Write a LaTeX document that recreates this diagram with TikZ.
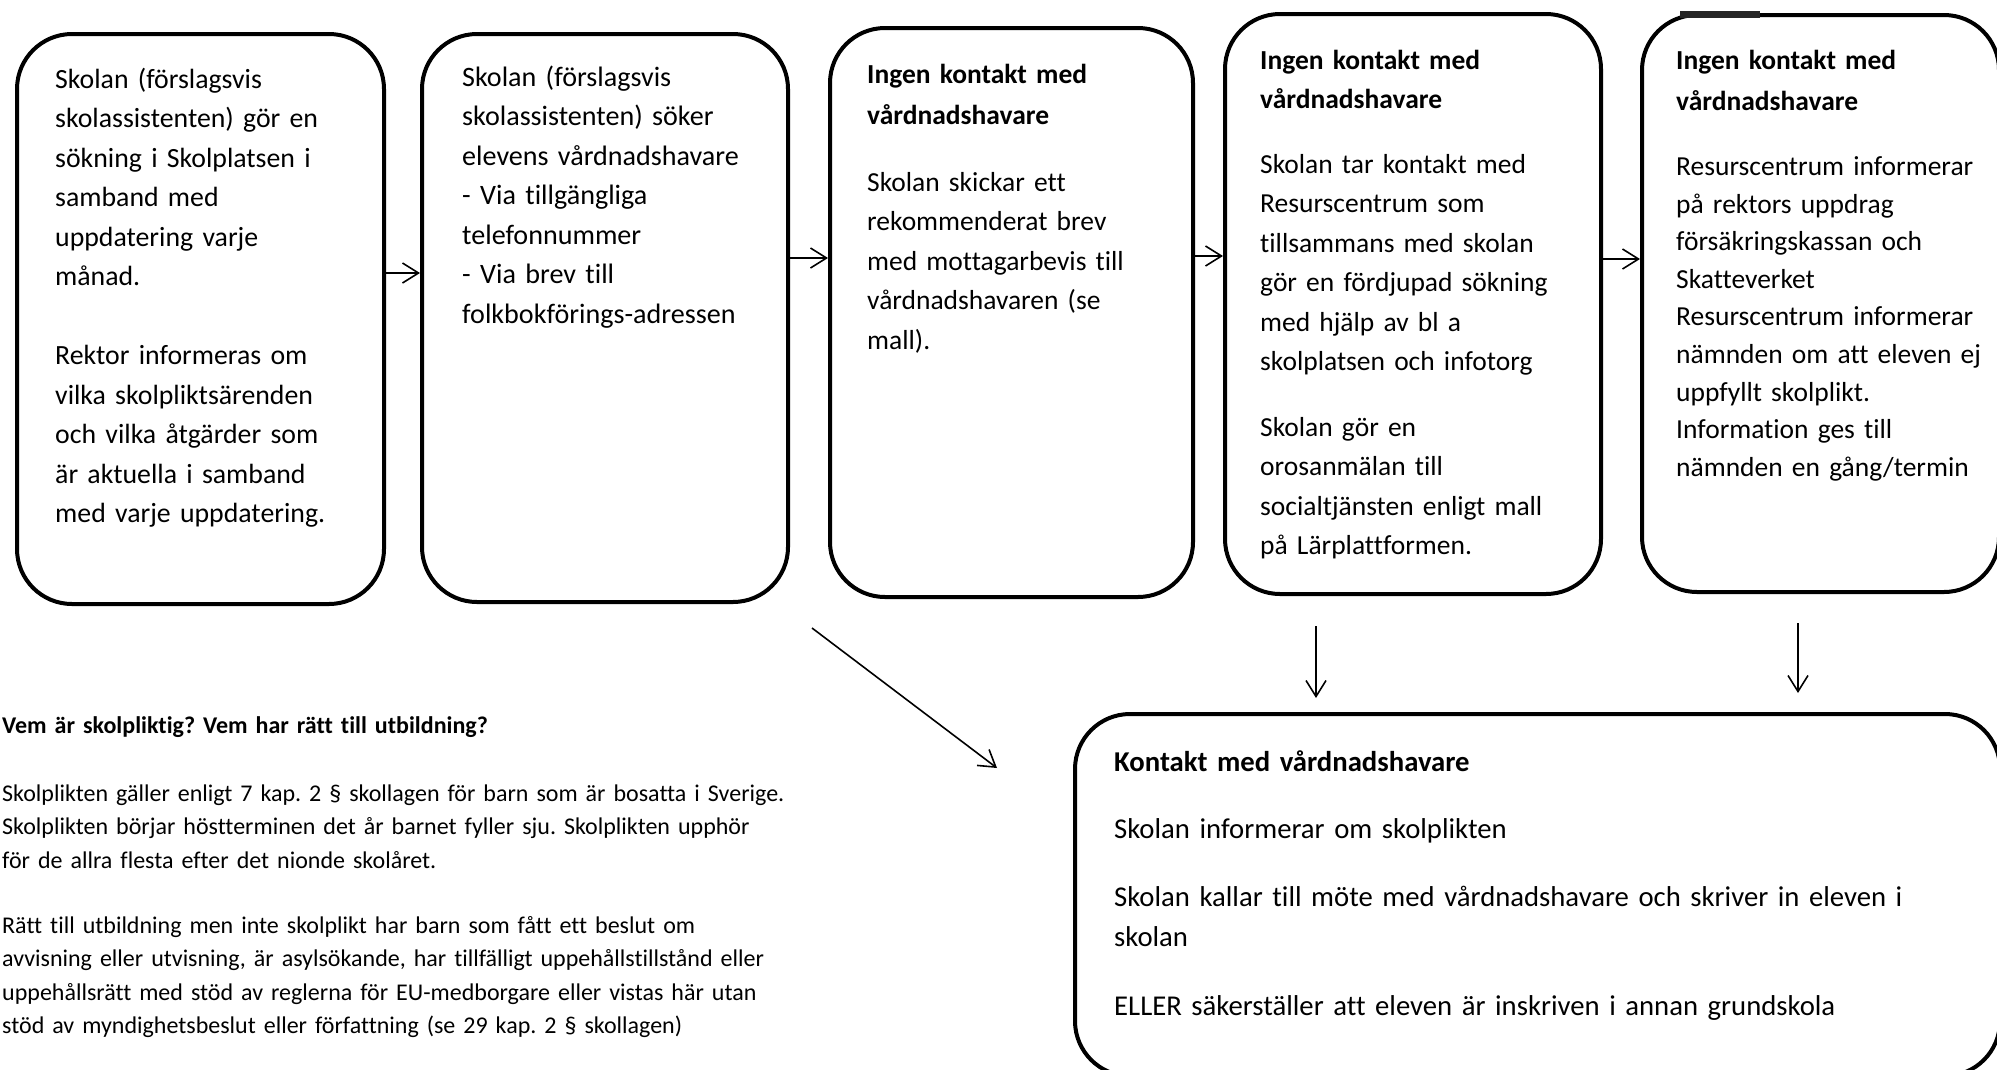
\documentclass[tikz,border=0pt]{standalone}
\usepackage{fontspec}
\setmainfont{Carlito}[Ligatures={TeX,NoCommon}]
\usetikzlibrary{arrows.meta}
\frenchspacing
\newcommand\fstr{\rule{0pt}{23pt}}
\newcommand\fstrs{\rule{0pt}{19pt}}
\tikzset{
  box/.style={draw=black, line width=4pt, rounded corners=55pt, inner sep=0pt, anchor=north west},
  txt/.style={inner sep=0pt, anchor=north west, align=left, text=black,
    font=\fontsize{27.5}{39.5}\selectfont},
  conn/.style={line width=1.6pt, -{Straight Barb[length=16pt,width=20pt]}},
}
\begin{document}
\begin{tikzpicture}[x=1pt,y=-1pt]
\path[use as bounding box] (0,0) rectangle (1997,1069);
\clip (0,0) rectangle (1997,1069);
\fill[white] (0,0) rectangle (1997,1069);

% boxes
\node[box, minimum width=367pt, minimum height=570pt] (b1) at (15,32) {};
\node[box, minimum width=366pt, minimum height=568pt] (b2) at (420,32) {};
\node[box, minimum width=363pt, minimum height=569pt] (b3) at (828,26) {};
\node[box, minimum width=376pt, minimum height=580pt] (b4) at (1223,12) {};
\node[box, minimum width=357pt, minimum height=577pt] (b5) at (1640,13) {};
\node[box, minimum width=925pt, minimum height=362pt] (bb) at (1073,712) {};
\fill[black!85] (1680,11) rectangle (1760,18);

% texts
\node[txt, text width=320pt, font=\fontsize{27.8}{39.5}\selectfont] (t1) at (55,65) {\fstr Skolan (förslagsvis\\
skolassistenten) gör en\\
sökning i Skolplatsen i\\
samband med\\
uppdatering varje\\
månad.\\[39.5pt]
Rektor informeras om\\
vilka skolpliktsärenden\\
och vilka åtgärder som\\
är aktuella i samband\\
med varje uppdatering.};

\node[txt, text width=320pt, font=\fontsize{28.1}{39.5}\selectfont] (t2) at (462,63) {\fstr Skolan (förslagsvis\\
skolassistenten) söker\\
elevens vårdnadshavare\\
- Via tillgängliga\\
telefonnummer\\
- Via brev till\\
folkbokförings-adressen};

\node[txt, text width=320pt] (t3) at (867,60) {\fstr\textbf{Ingen kontakt med}\\[2pt]
\textbf{vårdnadshavare}\\[27pt]
Skolan skickar ett\\
rekommenderat brev\\
med mottagarbevis till\\
vårdnadshavaren (se\\
mall).};

\node[txt, text width=330pt] (t4) at (1260,46) {\fstr\textbf{Ingen kontakt med}\\
\textbf{vårdnadshavare}\\[25pt]
Skolan tar kontakt med\\
Resurscentrum som\\
tillsammans med skolan\\
gör en fördjupad sökning\\
med hjälp av bl a\\
skolplatsen och infotorg\\[26pt]
Skolan gör en\\
orosanmälan till\\
socialtjänsten enligt mall\\
på Lärplattformen.};

\node[txt, text width=315pt, font=\fontsize{27.5}{37.6}\selectfont] (t5) at (1676,46) {\fstr\textbf{Ingen kontakt med}\\[4pt]
\textbf{vårdnadshavare}\\[27pt]
Resurscentrum informerar\\
på rektors uppdrag\\
försäkringskassan och\\
Skatteverket\\
Resurscentrum informerar\\
nämnden om att eleven ej\\
uppfyllt skolplikt.\\
Information ges till\\
nämnden en gång/termin};

\node[txt, text width=880pt, font=\fontsize{28.7}{40}\selectfont] (t6) at (1114,748) {\fstr\textbf{Kontakt med vårdnadshavare}\\[27pt]
Skolan informerar om skolplikten\\[28pt]
Skolan kallar till möte med vårdnadshavare och skriver in eleven i\\
skolan\\[29pt]
ELLER säkerställer att eleven är inskriven i annan grundskola};

\node[txt, text width=950pt, font=\fontsize{24}{33.5}\selectfont] (t7) at (2,714) {\fstrs\textbf{Vem är skolpliktig? Vem har rätt till utbildning?}\\[34.5pt]
Skolplikten gäller enligt 7 kap. 2 § skollagen för barn som är bosatta i Sverige.\\
Skolplikten börjar höstterminen det år barnet fyller sju. Skolplikten upphör\\
för de allra flesta efter det nionde skolåret.\\[31.5pt]
Rätt till utbildning men inte skolplikt har barn som fått ett beslut om\\
avvisning eller utvisning, är asylsökande, har tillfälligt uppehållstillstånd eller\\
uppehållsrätt med stöd av reglerna för EU-medborgare eller vistas här utan\\
stöd av myndighetsbeslut eller författning (se 29 kap. 2 § skollagen)};

% connectors
\coordinate (y12) at (0,273);
\coordinate (y23) at (0,258);
\coordinate (y34) at (0,256);
\coordinate (y45) at (0,259);
\draw[conn] (b1.east |- y12) -- (b2.west |- y12);
\draw[conn] (b2.east |- y23) -- (b3.west |- y23);
\draw[conn] (b3.east |- y34) -- (b4.west |- y34);
\draw[conn] (b4.east |- y45) -- (b5.west |- y45);

\coordinate (d1) at (812,628);
\coordinate (d2) at (997,768);
\draw[conn] (d1) -- (d2);

\coordinate (v1s) at (1316,626);
\coordinate (v1e) at (1316,698);
\coordinate (v2s) at (1798,623);
\coordinate (v2e) at (1798,693);
\draw[conn] (v1s) -- (v1e);
\draw[conn] (v2s) -- (v2e);
\end{tikzpicture}
\end{document}
